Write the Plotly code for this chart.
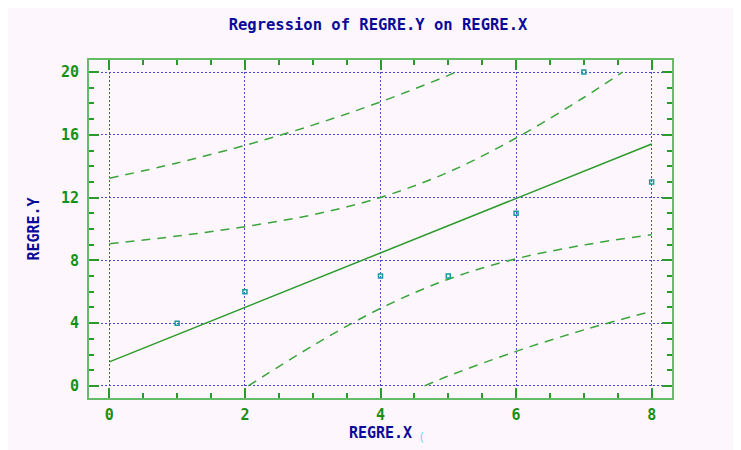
import plotly.graph_objects as go

# Observed data
obs_x = [1, 2, 4, 5, 6, 7, 8]
obs_y = [4, 6, 7, 7, 11, 20, 13]

# Fitted regression line
fit_x = [0, 2, 4, 6, 8]
fit_y = [1.53, 5.00, 8.47, 11.95, 15.42]

# Confidence band for the mean (clipped at 0 / 20)
ci_up_x = [0, 1, 2, 3, 4, 5, 6, 7, 7.57]
ci_up_y = [9.06, 9.55, 10.15, 10.91, 12.01, 13.62, 15.80, 18.38, 20.0]
ci_lo_x = [2.05, 3, 4, 5, 6, 7, 8]
ci_lo_y = [0.0, 2.56, 4.94, 6.80, 8.10, 8.98, 9.64]

# Prediction band (clipped at 0 / 20)
pi_up_x = [0, 1, 2, 3, 4, 5, 5.11]
pi_up_y = [13.23, 14.21, 15.33, 16.62, 18.10, 19.79, 20.0]
pi_lo_x = [4.65, 5, 6, 7, 8]
pi_lo_y = [0.0, 0.63, 2.20, 3.57, 4.76]

x_ticks = [0, 2, 4, 6, 8]
y_ticks = [0, 4, 8, 12, 16, 20]

GREEN = "#2a9a2a"
NAVY = "#0a0a99"
MONO = "DejaVu Sans Mono"

fig = go.Figure()

dash_style = dict(color="#3aa53a", width=1.5, dash="9px,7px", shape="spline")
for xs, ys in [(pi_up_x, pi_up_y), (ci_up_x, ci_up_y), (ci_lo_x, ci_lo_y), (pi_lo_x, pi_lo_y)]:
    fig.add_trace(go.Scatter(x=xs, y=ys, mode="lines", line=dash_style,
                             showlegend=False, hoverinfo="skip"))

fig.add_trace(go.Scatter(x=fit_x, y=fit_y, mode="lines",
                         line=dict(color="#2a9a2a", width=1.5),
                         showlegend=False))

fig.add_trace(go.Scatter(x=obs_x, y=obs_y, mode="markers",
                         marker=dict(symbol="square-open", size=4, color="#1a9aa0",
                                     line=dict(width=1.5, color="#1a9aa0")),
                         showlegend=False))

axis_common = dict(
    showline=True, mirror="ticks", linecolor="#66bb66", linewidth=2,
    ticks="inside", tickcolor=GREEN, ticklen=10, tickwidth=1.5,
    showgrid=True, gridcolor="#4848c8", griddash="1.5px,2.5px", gridwidth=1.2,
    zeroline=False,
    tickfont=dict(family=MONO, size=15, color="#159015", weight="bold"),
)

fig.update_xaxes(range=[-0.3, 8.3], tickvals=x_ticks,
                 minor=dict(dtick=0.5, ticks="inside", ticklen=5, tickcolor=GREEN, showgrid=False),
                 ticklabelstandoff=2,
                 title=dict(text="REGRE.X", standoff=4,
                            font=dict(family=MONO, size=15, color=NAVY, weight="bold")),
                 **axis_common)
fig.update_yaxes(range=[-0.77, 20.77], tickvals=y_ticks,
                 minor=dict(dtick=1, ticks="inside", ticklen=5, tickcolor=GREEN, showgrid=False),
                 ticklabelstandoff=5,
                 title=dict(text="REGRE.Y", standoff=18,
                            font=dict(family=MONO, size=15, color=NAVY, weight="bold")),
                 **axis_common)

L, T, R, B = 81, 52, 77, 60
fig.add_annotation(text="(", xref="paper", yref="paper", showarrow=False,
                   x=(421 - 89) / (672 - 89), y=(398 - 447) / (398 - 60),
                   font=dict(family=MONO, size=12, color="#66e0ff"))

fig.update_layout(
    width=741, height=450,
    margin=dict(l=L, r=R, t=T, b=B),
    paper_bgcolor="#fdf6fd", plot_bgcolor="#fdf6fd",
    title=dict(text="Regression of REGRE.Y on REGRE.X", x=370 / 741, xanchor="center",
               y=1 - 17 / 450, yanchor="middle",
               font=dict(family=MONO, size=15.5, color=NAVY, weight="bold")),
)

fig.write_html("out.html")
